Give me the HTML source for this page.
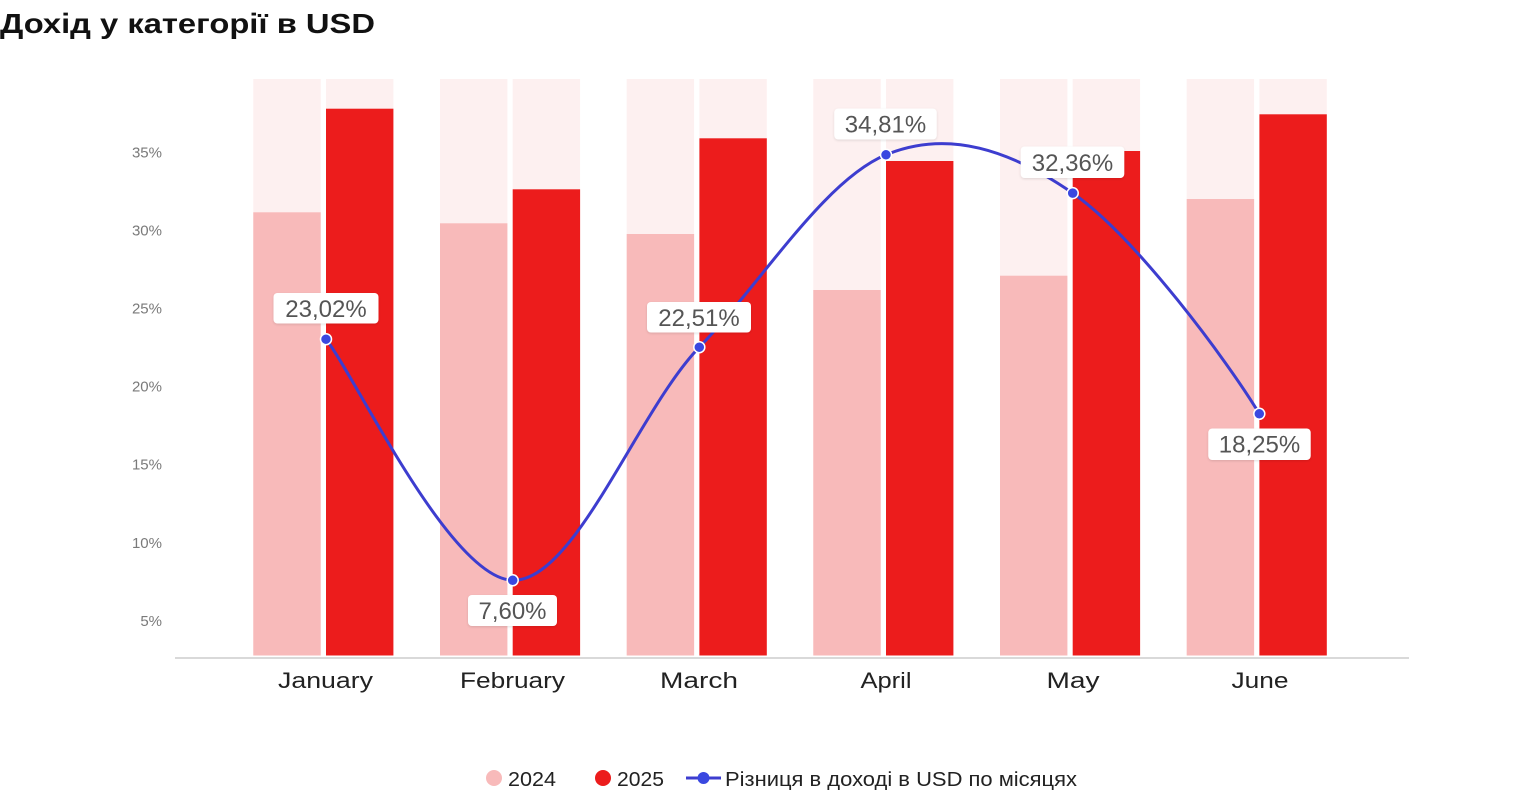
<!DOCTYPE html>
<html>
<head>
<meta charset="utf-8">
<style>
  html,body{margin:0;padding:0;background:#fff;}
  svg{display:block;}
  text{font-family:"Liberation Sans","Noto Sans CJK SC",sans-serif;}
</style>
</head>
<body>
<svg width="1538" height="800" viewBox="0 0 1538 800" xmlns="http://www.w3.org/2000/svg">
  <defs>
    <filter id="sh" x="-20%" y="-30%" width="140%" height="160%">
      <feDropShadow dx="0" dy="1" stdDeviation="1.2" flood-color="#000" flood-opacity="0.12"/>
    </filter>
  </defs>
  <rect width="1538" height="800" fill="#fff"/>

  <!-- Title -->
  <text x="0" y="33" font-size="28" font-weight="bold" fill="#111" textLength="375" lengthAdjust="spacingAndGlyphs">Дохід у категорії в USD</text>

  <!-- Y tick labels -->
  <g font-size="15" fill="#7a7a7a" text-anchor="end">
    <text x="162" y="157.5">35%</text>
    <text x="162" y="235.5">30%</text>
    <text x="162" y="313.5">25%</text>
    <text x="162" y="391.5">20%</text>
    <text x="162" y="469.5">15%</text>
    <text x="162" y="548">10%</text>
    <text x="162" y="626">5%</text>
  </g>

  <!-- Bars -->
  <g>
    <!-- background pale columns -->
    <g fill="#fdf0f0">
      <rect x="253.3" y="79" width="67.4" height="576.5"/>
      <rect x="326" y="79" width="67.4" height="576.5"/>
      <rect x="440" y="79" width="67.4" height="576.5"/>
      <rect x="512.7" y="79" width="67.4" height="576.5"/>
      <rect x="626.7" y="79" width="67.4" height="576.5"/>
      <rect x="699.4" y="79" width="67.4" height="576.5"/>
      <rect x="813.3" y="79" width="67.4" height="576.5"/>
      <rect x="886" y="79" width="67.4" height="576.5"/>
      <rect x="1000" y="79" width="67.4" height="576.5"/>
      <rect x="1072.7" y="79" width="67.4" height="576.5"/>
      <rect x="1186.7" y="79" width="67.4" height="576.5"/>
      <rect x="1259.4" y="79" width="67.4" height="576.5"/>
    </g>
    <!-- 2024 -->
    <g fill="#f8baba">
      <rect x="253.3" y="212.3" width="67.4" height="443.2"/>
      <rect x="440" y="223.3" width="67.4" height="432.2"/>
      <rect x="626.7" y="234" width="67.4" height="421.5"/>
      <rect x="813.3" y="290" width="67.4" height="365.5"/>
      <rect x="1000" y="275.7" width="67.4" height="379.8"/>
      <rect x="1186.7" y="199" width="67.4" height="456.5"/>
    </g>
    <!-- 2025 -->
    <g fill="#ec1c1c">
      <rect x="326" y="108.7" width="67.4" height="546.8"/>
      <rect x="512.7" y="189.3" width="67.4" height="466.2"/>
      <rect x="699.4" y="138.3" width="67.4" height="517.2"/>
      <rect x="886" y="161" width="67.4" height="494.5"/>
      <rect x="1072.7" y="151" width="67.4" height="504.5"/>
      <rect x="1259.4" y="114.3" width="67.4" height="541.2"/>
    </g>
  </g>

  <!-- Axis line -->
  <line x1="175" y1="658" x2="1409" y2="658" stroke="#d9d9d9" stroke-width="2"/>

  <!-- X labels -->
  <g font-size="22" fill="#222" text-anchor="middle">
    <text x="325.5" y="688" textLength="95" lengthAdjust="spacingAndGlyphs">January</text>
    <text x="512.5" y="688" textLength="105" lengthAdjust="spacingAndGlyphs">February</text>
    <text x="699" y="688" textLength="78" lengthAdjust="spacingAndGlyphs">March</text>
    <text x="886" y="688" textLength="51" lengthAdjust="spacingAndGlyphs">April</text>
    <text x="1073" y="688" textLength="53" lengthAdjust="spacingAndGlyphs">May</text>
    <text x="1260" y="688" textLength="57" lengthAdjust="spacingAndGlyphs">June</text>
  </g>

  <!-- Line series (Catmull-Rom spline) -->
  <path d="M326,339.2
           C357,379.4 450.5,578.7 512.7,580.3
           C574.9,581.9 637.2,411.6 699.3,347.2
           C761.5,282.8 823.8,180.5 886,154.8
           C948.3,129.1 1010.5,150.1 1072.7,193.1
           C1134.9,236.1 1228.2,361.9 1259.3,413.8"
        fill="none" stroke="#3d3dcf" stroke-width="3" stroke-linecap="round"/>
  <g fill="#3a48e0" stroke="#fff" stroke-width="1.5">
    <circle cx="326" cy="339.2" r="5.5"/>
    <circle cx="512.7" cy="580.3" r="5.5"/>
    <circle cx="699.3" cy="347.2" r="5.5"/>
    <circle cx="886" cy="154.8" r="5.5"/>
    <circle cx="1072.7" cy="193.1" r="5.5"/>
    <circle cx="1259.3" cy="413.8" r="5.5"/>
  </g>

  <!-- Data labels -->
  <g filter="url(#sh)" fill="#fff">
    <rect x="273.5" y="293" width="105" height="30.5" rx="4"/>
    <rect x="468" y="595" width="89" height="31" rx="4"/>
    <rect x="647" y="302" width="104" height="30.5" rx="4"/>
    <rect x="834.3" y="108.5" width="102.4" height="31" rx="4"/>
    <rect x="1020.7" y="146.5" width="103.6" height="31.5" rx="4"/>
    <rect x="1208.3" y="428.5" width="102.4" height="31.5" rx="4"/>
  </g>
  <g font-size="24" fill="#555" text-anchor="middle">
    <text x="326" y="316.8">23,02%</text>
    <text x="512.5" y="619">7,60%</text>
    <text x="699" y="325.8">22,51%</text>
    <text x="885.5" y="132.5">34,81%</text>
    <text x="1072.5" y="170.8">32,36%</text>
    <text x="1259.5" y="452.7">18,25%</text>
  </g>

  <!-- Legend -->
  <circle cx="494" cy="778" r="8" fill="#f8baba"/>
  <text x="508" y="786" font-size="20.5" fill="#222" textLength="48" lengthAdjust="spacingAndGlyphs">2024</text>
  <circle cx="603" cy="778" r="8" fill="#ec1c1c"/>
  <text x="617" y="786" font-size="20.5" fill="#222" textLength="47" lengthAdjust="spacingAndGlyphs">2025</text>
  <line x1="686" y1="778" x2="721" y2="778" stroke="#3d3dcf" stroke-width="3"/>
  <circle cx="703.5" cy="778" r="6" fill="#3a48e0"/>
  <text x="725" y="786" font-size="20.5" fill="#222" textLength="352" lengthAdjust="spacingAndGlyphs">Різниця в доході в USD по місяцях</text>
</svg>
</body>
</html>
